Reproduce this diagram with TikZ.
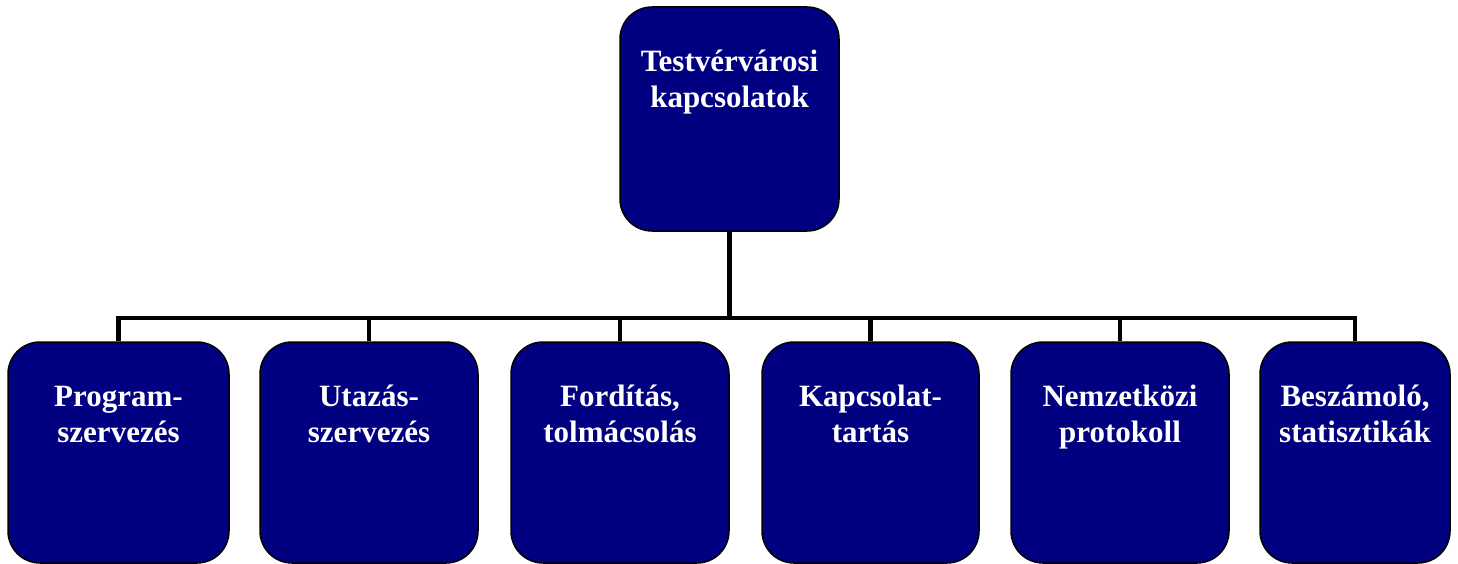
\documentclass[tikz,border=0pt]{standalone}
\usepackage{fontspec}
\setmainfont{Liberation Serif}
\definecolor{boxblue}{HTML}{000080}

\begin{document}
\begin{tikzpicture}[x=1pt, y=-1pt,
    box/.style={draw=black, line width=1.5pt, fill=boxblue,
      rounded corners=32pt, minimum width=218pt, minimum height=221pt, inner sep=0pt},
    txt/.style={text=white, font=\bfseries\fontsize{31}{36}\selectfont,
      align=center, anchor=base, inner sep=0pt, yshift=-101pt},
    conn/.style={line width=4.5pt}
   ]
   \useasboundingbox (0,0) rectangle (1458,564);
   % root
   \node[box, minimum width=219pt, minimum height=224pt] (root) at (729.5,119) {};
   \node[txt] (rootlbl) at (root.north) {Testvérvárosi\\kapcsolatok};
   % children
   \node[box, minimum width=221pt] (prog) at (118.5,452.5) {};
   \node[box] (utaz) at (369,452.5) {};
   \node[box] (ford) at (620,452.5) {};
   \node[box, minimum width=217pt] (kapcs) at (870.5,452.5) {};
   \node[box] (nemz) at (1120,452.5) {};
   \node[box, minimum width=190pt] (besz) at (1355,452.5) {};
   \node[txt] (proglbl) at (prog.north) {Program-\\szervezés};
   \node[txt] (utazlbl) at (utaz.north) {Utazás-\\szervezés};
   \node[txt] (fordlbl) at (ford.north) {Fordítás,\\tolmácsolás};
   \node[txt] (kapcslbl) at (kapcs.north) {Kapcsolat-\\tartás};
   \node[txt] (nemzlbl) at (nemz.north) {Nemzetközi\\protokoll};
   \node[txt] (beszlbl) at (besz.north) {Beszámoló,\\statisztikák};
   % connectors
   \coordinate (bus) at (729.5,318);
   \draw[conn] (root.south) -- (root.south |- bus);
   \draw[conn] (prog.north) -- (prog.north |- bus) -- (besz.north |- bus) -- (besz.north);
   \foreach \n in {utaz,ford,kapcs,nemz}
     \draw[conn] (\n.north) -- (\n.north |- bus);
  \end{tikzpicture}
\end{document}
